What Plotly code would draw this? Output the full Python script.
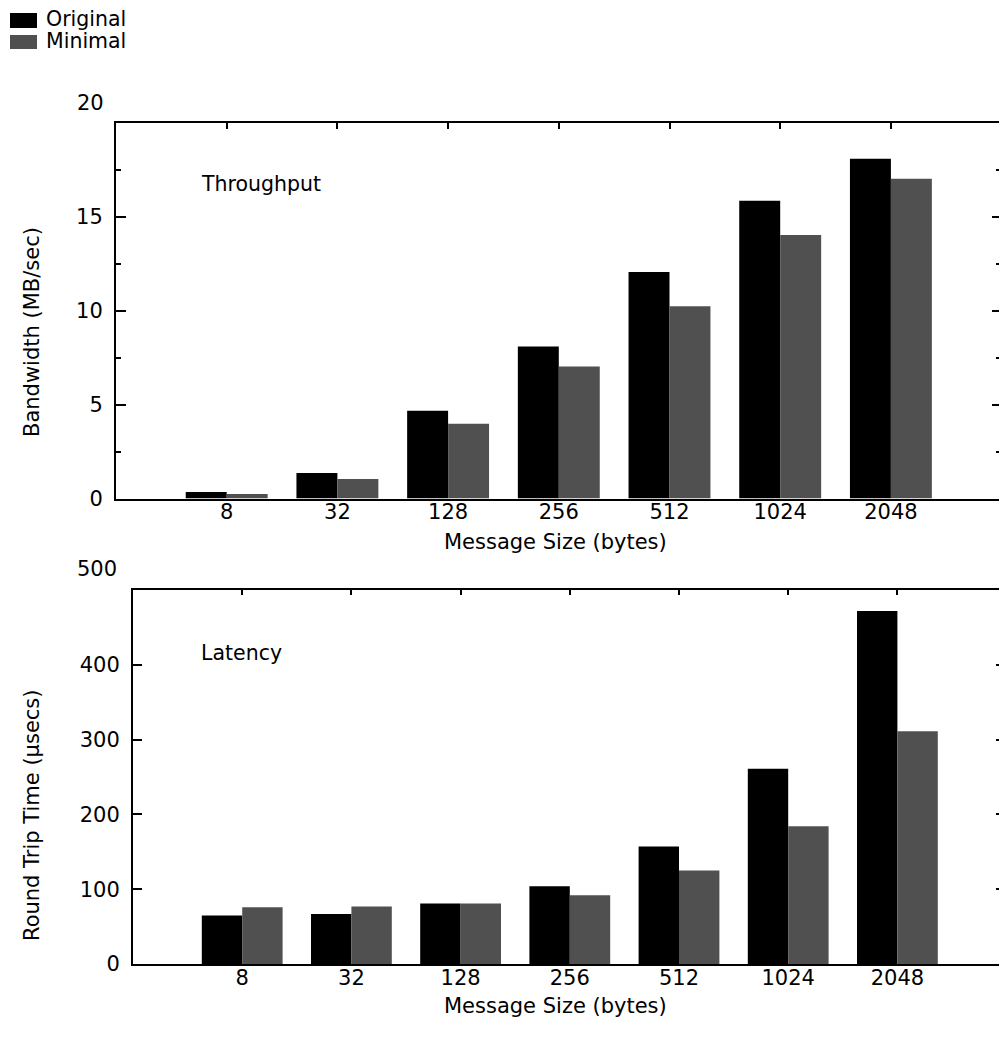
import plotly.graph_objects as go

# Message sizes (bytes) used for both panels
sizes = ["8", "32", "128", "256", "512", "1024", "2048"]

# Throughput, MB/sec
bw_original = [0.35, 1.36, 4.68, 8.10, 12.06, 15.86, 18.10]
bw_minimal = [0.24, 1.04, 3.98, 7.03, 10.24, 14.04, 17.03]

# Round trip time, usecs
rtt_original = [65, 67, 81, 104, 157, 261, 472]
rtt_minimal = [76, 77, 81, 92, 125, 184, 311]

series_names = ["Original", "Minimal"]
series_colors = ["#000000", "#505050"]

W, H = 999, 1046
FONT = "DejaVu Sans"


def px(x):
    return x / W


def py(y):
    return 1 - y / H


fig = go.Figure()

# bar traces
for vals, name, col, xa, ya in [
    (bw_original, series_names[0], series_colors[0], "x", "y"),
    (bw_minimal, series_names[1], series_colors[1], "x", "y"),
    (rtt_original, series_names[0], series_colors[0], "x2", "y2"),
    (rtt_minimal, series_names[1], series_colors[1], "x2", "y2"),
]:
    fig.add_trace(go.Bar(x=sizes, y=vals, name=name, marker=dict(color=col, line=dict(width=0)),
                         xaxis=xa, yaxis=ya, showlegend=False))

# empty traces so the frame axes (top / right) are drawn
for xa, ya in [("x3", "y3"), ("x4", "y4")]:
    fig.add_trace(go.Scatter(x=[], y=[], xaxis=xa, yaxis=ya, showlegend=False, hoverinfo="skip"))

n = len(sizes)
top_dom_x = [px(116), 1]
top_dom_y = [py(498.5), py(123)]
bot_dom_x = [px(133), 1]
bot_dom_y = [py(964), py(590)]
top_xr = [-1, -1 + (W - 116) / 110.7]
bot_xr = [-1, -1 + (W - 133) / 109.2]

tickfont = dict(family=FONT, size=21, color="black")
common_line = dict(showline=True, linecolor="black", linewidth=2, showgrid=False, zeroline=False,
                   automargin=False)

fig.update_layout(
    width=W, height=H,
    margin=dict(l=0, r=0, t=0, b=0),
    plot_bgcolor="white", paper_bgcolor="white",
    barmode="group", bargap=0.26, bargroupgap=0,
    font=dict(family=FONT, color="black"),
    # throughput panel
    xaxis=dict(domain=top_dom_x, anchor="y", type="category", categoryarray=sizes, range=top_xr,
               ticks="", tickfont=tickfont, ticklabelstandoff=-7, **common_line),
    yaxis=dict(domain=top_dom_y, anchor="x", range=[0, 20], tickvals=[0, 5, 10, 15],
               ticks="inside", ticklen=10, tickwidth=1.5, tickcolor="black",
               minor=dict(ticks="inside", ticklen=5, tickwidth=1.5, tickcolor="black", dtick=2.5, tick0=0),
               tickfont=tickfont, ticklabelstandoff=7, **common_line),
    xaxis3=dict(overlaying="x", anchor="y3", side="top", range=top_xr, tickvals=list(range(n)),
                ticks="inside", ticklen=6, tickwidth=1.5, tickcolor="black", showticklabels=False,
                **common_line),
    yaxis3=dict(overlaying="y", anchor="x3", side="right", range=[0, 20], tickvals=[5, 10, 15],
                ticks="inside", ticklen=7, tickwidth=1.5, tickcolor="black",
                minor=dict(ticks="inside", ticklen=3, tickwidth=1.5, tickcolor="black", dtick=2.5, tick0=0),
                showticklabels=False, showline=False, showgrid=False, zeroline=False),
    # latency panel
    xaxis2=dict(domain=bot_dom_x, anchor="y2", type="category", categoryarray=sizes, range=bot_xr,
                ticks="", tickfont=tickfont, ticklabelstandoff=-6, **common_line),
    yaxis2=dict(domain=bot_dom_y, anchor="x2", range=[0, 500], tickvals=[0, 100, 200, 300, 400],
                ticks="inside", ticklen=9, tickwidth=1.5, tickcolor="black",
                tickfont=tickfont, ticklabelstandoff=7, **common_line),
    xaxis4=dict(overlaying="x2", anchor="y4", side="top", range=bot_xr, tickvals=list(range(n)),
                ticks="inside", ticklen=5, tickwidth=1.5, tickcolor="black", showticklabels=False,
                **common_line),
    yaxis4=dict(overlaying="y2", anchor="x4", side="right", range=[0, 500], tickvals=[100, 200, 300, 400],
                ticks="inside", ticklen=3, tickwidth=1.5, tickcolor="black",
                showticklabels=False, showline=False, showgrid=False, zeroline=False),
)

ann = []
# top-of-scale labels sit above the frame
ann.append(dict(text="20", x=px(106), xref="paper", y=20, yref="y", yshift=20,
                xanchor="right", yanchor="middle", showarrow=False, font=tickfont))
ann.append(dict(text="500", x=px(119), xref="paper", y=500, yref="y2", yshift=21,
                xanchor="right", yanchor="middle", showarrow=False, font=tickfont))
# axis titles
title_font = dict(family=FONT, size=21, color="black")
ann.append(dict(text="Message Size (bytes)", x=px(555), y=py(542), xref="paper", yref="paper",
                showarrow=False, xanchor="center", yanchor="middle", font=title_font))
ann.append(dict(text="Message Size (bytes)", x=px(555), y=py(1006), xref="paper", yref="paper",
                showarrow=False, xanchor="center", yanchor="middle", font=title_font))
ann.append(dict(text="Bandwidth (MB/sec)", x=px(32), y=py(332), xref="paper", yref="paper",
                showarrow=False, textangle=-90, xanchor="center", yanchor="middle", font=title_font))
ann.append(dict(text="Round Trip Time (µsecs)", x=px(32), y=py(815), xref="paper", yref="paper",
                showarrow=False, textangle=-90, xanchor="center", yanchor="middle", font=title_font))
# panel labels
panel_font = dict(family=FONT, size=20.5, color="black")
ann.append(dict(text="Throughput", x=px(199), y=py(184), xref="paper", yref="paper",
                showarrow=False, xanchor="left", yanchor="middle", font=panel_font))
ann.append(dict(text="Latency", x=px(199), y=py(653), xref="paper", yref="paper",
                showarrow=False, xanchor="left", yanchor="middle", font=panel_font))

# key
shapes = []
key_rows = [(13, 28, 19), (35, 49, 41)]
for (y0, y1, yc), name, col in zip(key_rows, series_names, series_colors):
    shapes.append(dict(type="rect", xref="paper", yref="paper", x0=px(10), x1=px(37),
                       y0=py(y1), y1=py(y0), fillcolor=col, line=dict(width=0)))
    ann.append(dict(text=name, x=px(44), y=py(yc), xref="paper", yref="paper", showarrow=False,
                    xanchor="left", yanchor="middle", font=dict(family=FONT, size=20.5, color="black")))

fig.update_layout(annotations=ann, shapes=shapes)
fig.write_html("out.html")
